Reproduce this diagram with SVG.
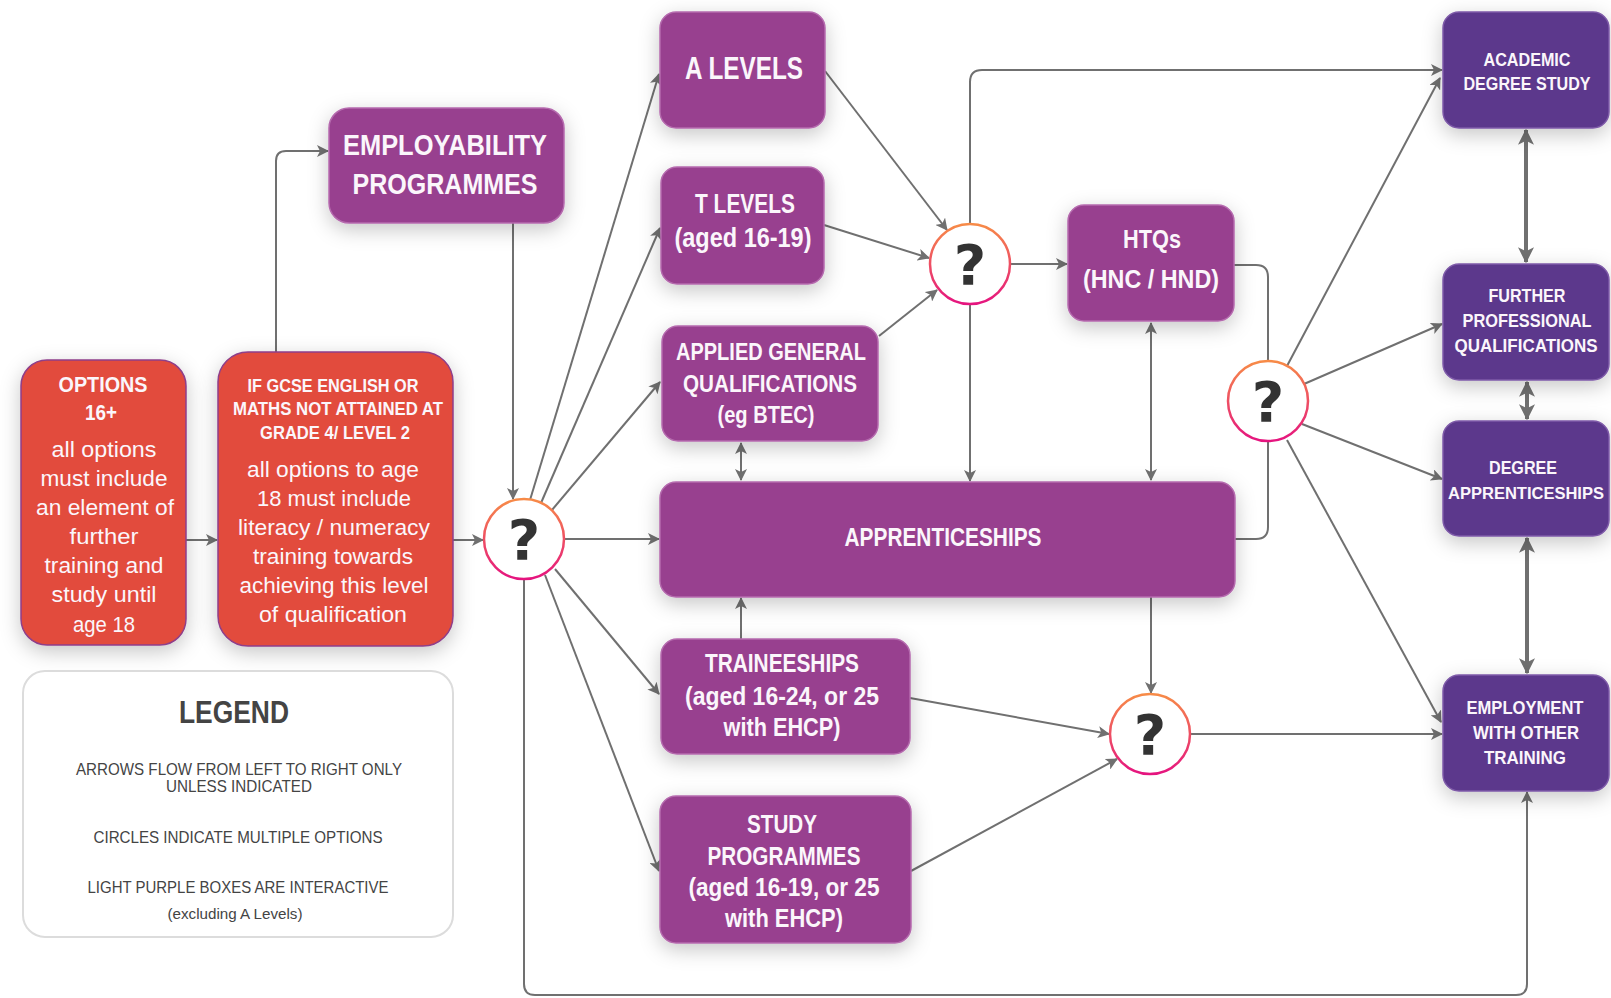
<svg xmlns="http://www.w3.org/2000/svg" width="1611" height="998" viewBox="0 0 1611 998">
<defs>
<style>
.t{font-family:"Liberation Sans",Arial,sans-serif;text-anchor:middle;fill:#fbf6fb}
.b{font-weight:bold}
.red{fill:#e24b3c;stroke:#8e3f8a;stroke-width:1.5}
.pur{fill:#98418f;stroke:#b56aae;stroke-width:1.5}
.dk{fill:#5c398c;stroke:#7e5aa8;stroke-width:1.5}
.c{fill:#fff;stroke:url(#cg);stroke-width:2.5}
.q{font-family:"DejaVu Sans","Liberation Sans",sans-serif;font-weight:bold;font-size:56px;text-anchor:middle;fill:#333}
.ln{fill:none;stroke:#707070;stroke-width:2}
.th{fill:none;stroke:#707070;stroke-width:4}
.lg{font-family:"Liberation Sans",Arial,sans-serif;text-anchor:middle;fill:#444}
</style>
<linearGradient id="cg" x1="0" y1="0" x2="0" y2="1">
<stop offset="0" stop-color="#f78b47"/>
<stop offset="1" stop-color="#e5147f"/>
</linearGradient>
<filter id="sh" x="-30%" y="-30%" width="160%" height="170%">
<feDropShadow dx="0" dy="6" stdDeviation="10" flood-color="#000" flood-opacity="0.22"/>
</filter>
<marker id="ah" viewBox="0 0 12 12" refX="11" refY="6" markerWidth="12" markerHeight="12" markerUnits="userSpaceOnUse" orient="auto-start-reverse">
<path d="M0,0 L12,6 L0,12 L3,6 z" fill="#707070"/>
</marker>
<marker id="ahb" viewBox="0 0 12 12" refX="11" refY="6" markerWidth="16" markerHeight="16" markerUnits="userSpaceOnUse" orient="auto-start-reverse">
<path d="M0,0 L12,6 L0,12 L3,6 z" fill="#707070"/>
</marker>
</defs>
<rect width="1611" height="998" fill="#fff"/>

<g id="connectors">
<line class="ln" x1="186" y1="540" x2="217" y2="540" marker-end="url(#ah)"/>
<path class="ln" d="M276,352 V161 Q276,151 286,151 H328" marker-end="url(#ah)"/>
<line class="ln" x1="453" y1="540" x2="483" y2="540" marker-end="url(#ah)"/>
<line class="ln" x1="513" y1="223" x2="513" y2="499" marker-end="url(#ah)"/>
<line class="ln" x1="530" y1="500" x2="659" y2="74" marker-end="url(#ah)"/>
<line class="ln" x1="541" y1="503" x2="660" y2="228" marker-end="url(#ah)"/>
<line class="ln" x1="552" y1="510" x2="660" y2="382" marker-end="url(#ah)"/>
<line class="ln" x1="564" y1="539" x2="659" y2="539" marker-end="url(#ah)"/>
<line class="ln" x1="555" y1="569" x2="659" y2="694" marker-end="url(#ah)"/>
<line class="ln" x1="545" y1="575" x2="659" y2="871" marker-end="url(#ah)"/>
<path class="ln" d="M524,579 V984 Q524,995 535,995 H1516 Q1527,995 1527,984 V792" marker-end="url(#ah)"/>
<line class="ln" x1="825" y1="71" x2="947" y2="230" marker-end="url(#ah)"/>
<line class="ln" x1="824" y1="225" x2="929" y2="258" marker-end="url(#ah)"/>
<line class="ln" x1="879" y1="336" x2="937" y2="290" marker-end="url(#ah)"/>
<line class="ln" x1="1010" y1="264" x2="1067" y2="264" marker-end="url(#ah)"/>
<path class="ln" d="M970,224 V82 Q970,70 982,70 H1442" marker-end="url(#ah)"/>
<line class="ln" x1="970" y1="304" x2="970" y2="481" marker-end="url(#ah)"/>
<line class="ln" x1="1151" y1="323" x2="1151" y2="480" marker-start="url(#ah)" marker-end="url(#ah)"/>
<path class="ln" d="M1234,265 H1256 Q1268,265 1268,277 V527 Q1268,539 1256,539 H1235"/>
<line class="ln" x1="741" y1="443" x2="741" y2="480" marker-start="url(#ah)" marker-end="url(#ah)"/>
<line class="ln" x1="741" y1="639" x2="741" y2="598" marker-end="url(#ah)"/>
<line class="ln" x1="1151" y1="597" x2="1151" y2="693" marker-end="url(#ah)"/>
<line class="ln" x1="910" y1="698" x2="1109" y2="734" marker-end="url(#ah)"/>
<line class="ln" x1="911" y1="871" x2="1117" y2="759" marker-end="url(#ah)"/>
<line class="ln" x1="1190" y1="734" x2="1442" y2="734" marker-end="url(#ah)"/>
<line class="ln" x1="1287" y1="366" x2="1440" y2="78" marker-end="url(#ah)"/>
<line class="ln" x1="1304" y1="384" x2="1442" y2="324" marker-end="url(#ah)"/>
<line class="ln" x1="1302" y1="424" x2="1442" y2="479" marker-end="url(#ah)"/>
<line class="ln" x1="1287" y1="440" x2="1441" y2="722" marker-end="url(#ah)"/>
<line class="th" x1="1526" y1="130" x2="1526" y2="262" marker-start="url(#ahb)" marker-end="url(#ahb)"/>
<line class="th" x1="1527" y1="382" x2="1527" y2="419" marker-start="url(#ahb)" marker-end="url(#ahb)"/>
<line class="th" x1="1527" y1="538" x2="1527" y2="673" marker-start="url(#ahb)" marker-end="url(#ahb)"/>
</g>

<g id="options">
<rect class="red" x="21" y="360" width="165" height="285" rx="26" filter="url(#sh)"/>
<text class="t b" x="103" y="392" font-size="22" textLength="89" lengthAdjust="spacingAndGlyphs">OPTIONS</text>
<text class="t b" x="101" y="420" font-size="22" textLength="32" lengthAdjust="spacingAndGlyphs">16+</text>
<text class="t" x="104" y="457" font-size="22" textLength="105" lengthAdjust="spacingAndGlyphs">all options</text>
<text class="t" x="104" y="486" font-size="22" textLength="127" lengthAdjust="spacingAndGlyphs">must include</text>
<text class="t" x="105" y="515" font-size="22" textLength="138" lengthAdjust="spacingAndGlyphs">an element of</text>
<text class="t" x="104" y="544" font-size="22" textLength="69" lengthAdjust="spacingAndGlyphs">further</text>
<text class="t" x="104" y="573" font-size="22" textLength="119" lengthAdjust="spacingAndGlyphs">training and</text>
<text class="t" x="104" y="602" font-size="22" textLength="105" lengthAdjust="spacingAndGlyphs">study until</text>
<text class="t" x="104" y="632" font-size="22" textLength="62" lengthAdjust="spacingAndGlyphs">age 18</text>
</g>

<g id="gcse">
<rect class="red" x="218" y="352" width="235" height="294" rx="30" filter="url(#sh)"/>
<text class="t b" x="333" y="392" font-size="19" textLength="171" lengthAdjust="spacingAndGlyphs">IF GCSE ENGLISH OR</text>
<text class="t b" x="338" y="415" font-size="19" textLength="210" lengthAdjust="spacingAndGlyphs">MATHS NOT ATTAINED AT</text>
<text class="t b" x="335" y="439" font-size="19" textLength="150" lengthAdjust="spacingAndGlyphs">GRADE 4/ LEVEL 2</text>
<text class="t" x="333" y="477" font-size="22" textLength="172" lengthAdjust="spacingAndGlyphs">all options to age</text>
<text class="t" x="334" y="506" font-size="22" textLength="154" lengthAdjust="spacingAndGlyphs">18 must include</text>
<text class="t" x="334" y="535" font-size="22" textLength="192" lengthAdjust="spacingAndGlyphs">literacy / numeracy</text>
<text class="t" x="333" y="564" font-size="22" textLength="160" lengthAdjust="spacingAndGlyphs">training towards</text>
<text class="t" x="334" y="593" font-size="22" textLength="189" lengthAdjust="spacingAndGlyphs">achieving this level</text>
<text class="t" x="333" y="622" font-size="22" textLength="148" lengthAdjust="spacingAndGlyphs">of qualification</text>
</g>

<g id="employability">
<rect class="pur" x="329" y="108" width="235" height="115" rx="20" filter="url(#sh)"/>
<text class="t b" x="445" y="155" font-size="30" textLength="204" lengthAdjust="spacingAndGlyphs">EMPLOYABILITY</text>
<text class="t b" x="445" y="194" font-size="30" textLength="185" lengthAdjust="spacingAndGlyphs">PROGRAMMES</text>
</g>

<g id="legend">
<rect x="23" y="671" width="430" height="266" rx="22" fill="#fff" stroke="#dcdcdc" stroke-width="2"/>
<text class="lg b" x="234" y="723" font-size="31" textLength="110" lengthAdjust="spacingAndGlyphs">LEGEND</text>
<text class="lg" x="239" y="775" font-size="17" textLength="326" lengthAdjust="spacingAndGlyphs">ARROWS FLOW FROM LEFT TO RIGHT ONLY</text>
<text class="lg" x="239" y="792" font-size="17" textLength="146" lengthAdjust="spacingAndGlyphs">UNLESS INDICATED</text>
<text class="lg" x="238" y="843" font-size="17" textLength="289" lengthAdjust="spacingAndGlyphs">CIRCLES INDICATE MULTIPLE OPTIONS</text>
<text class="lg" x="238" y="893" font-size="17" textLength="301" lengthAdjust="spacingAndGlyphs">LIGHT PURPLE BOXES ARE INTERACTIVE</text>
<text class="lg" x="235" y="919" font-size="14" textLength="135" lengthAdjust="spacingAndGlyphs">(excluding A Levels)</text>
</g>

<g id="circle-left">
<circle class="c" cx="524" cy="539" r="40"/>
<text class="q" x="524" y="559">?</text>
</g>

<g id="a-levels">
<rect class="pur" x="660" y="12" width="165" height="116" rx="16" filter="url(#sh)"/>
<text class="t b" x="744" y="79" font-size="32" textLength="118" lengthAdjust="spacingAndGlyphs">A LEVELS</text>
</g>

<g id="t-levels">
<rect class="pur" x="661" y="167" width="163" height="117" rx="16" filter="url(#sh)"/>
<text class="t b" x="745" y="213" font-size="27" textLength="100" lengthAdjust="spacingAndGlyphs">T LEVELS</text>
<text class="t b" x="743" y="247" font-size="27" textLength="137" lengthAdjust="spacingAndGlyphs">(aged 16-19)</text>
</g>

<g id="applied">
<rect class="pur" x="662" y="326" width="216" height="115" rx="16" filter="url(#sh)"/>
<text class="t b" x="771" y="360" font-size="24" textLength="190" lengthAdjust="spacingAndGlyphs">APPLIED GENERAL</text>
<text class="t b" x="770" y="392" font-size="24" textLength="174" lengthAdjust="spacingAndGlyphs">QUALIFICATIONS</text>
<text class="t b" x="766" y="423" font-size="24" textLength="97" lengthAdjust="spacingAndGlyphs">(eg BTEC)</text>
</g>

<g id="apprenticeships">
<rect class="pur" x="660" y="482" width="575" height="115" rx="16" filter="url(#sh)"/>
<text class="t b" x="943" y="546" font-size="26" textLength="197" lengthAdjust="spacingAndGlyphs">APPRENTICESHIPS</text>
</g>

<g id="traineeships">
<rect class="pur" x="661" y="639" width="249" height="115" rx="16" filter="url(#sh)"/>
<text class="t b" x="782" y="672" font-size="26" textLength="154" lengthAdjust="spacingAndGlyphs">TRAINEESHIPS</text>
<text class="t b" x="782" y="705" font-size="26" textLength="194" lengthAdjust="spacingAndGlyphs">(aged 16-24, or 25</text>
<text class="t b" x="782" y="736" font-size="26" textLength="117" lengthAdjust="spacingAndGlyphs">with EHCP)</text>
</g>

<g id="study">
<rect class="pur" x="660" y="796" width="251" height="147" rx="16" filter="url(#sh)"/>
<text class="t b" x="782" y="833" font-size="26" textLength="70" lengthAdjust="spacingAndGlyphs">STUDY</text>
<text class="t b" x="784" y="865" font-size="26" textLength="153" lengthAdjust="spacingAndGlyphs">PROGRAMMES</text>
<text class="t b" x="784" y="896" font-size="26" textLength="191" lengthAdjust="spacingAndGlyphs">(aged 16-19, or 25</text>
<text class="t b" x="784" y="927" font-size="26" textLength="118" lengthAdjust="spacingAndGlyphs">with EHCP)</text>
</g>

<g id="circle-mid">
<circle class="c" cx="970" cy="264" r="40"/>
<text class="q" x="970" y="284">?</text>
</g>

<g id="htqs">
<rect class="pur" x="1068" y="205" width="166" height="116" rx="16" filter="url(#sh)"/>
<text class="t b" x="1152" y="248" font-size="26" textLength="58" lengthAdjust="spacingAndGlyphs">HTQs</text>
<text class="t b" x="1151" y="288" font-size="26" textLength="136" lengthAdjust="spacingAndGlyphs">(HNC / HND)</text>
</g>

<g id="circle-right">
<circle class="c" cx="1268" cy="401" r="40"/>
<text class="q" x="1268" y="421">?</text>
</g>

<g id="circle-bottom">
<circle class="c" cx="1150" cy="734" r="40"/>
<text class="q" x="1150" y="754">?</text>
</g>

<g id="academic">
<rect class="dk" x="1443" y="12" width="166" height="116" rx="16" filter="url(#sh)"/>
<text class="t b" x="1527" y="66" font-size="19" textLength="87" lengthAdjust="spacingAndGlyphs">ACADEMIC</text>
<text class="t b" x="1527" y="90" font-size="18" textLength="127" lengthAdjust="spacingAndGlyphs">DEGREE STUDY</text>
</g>

<g id="further">
<rect class="dk" x="1443" y="264" width="166" height="116" rx="16" filter="url(#sh)"/>
<text class="t b" x="1527" y="302" font-size="19" textLength="77" lengthAdjust="spacingAndGlyphs">FURTHER</text>
<text class="t b" x="1527" y="327" font-size="19" textLength="129" lengthAdjust="spacingAndGlyphs">PROFESSIONAL</text>
<text class="t b" x="1526" y="352" font-size="18" textLength="143" lengthAdjust="spacingAndGlyphs">QUALIFICATIONS</text>
</g>

<g id="degree-apprenticeships">
<rect class="dk" x="1443" y="421" width="166" height="115" rx="16" filter="url(#sh)"/>
<text class="t b" x="1523" y="474" font-size="19" textLength="68" lengthAdjust="spacingAndGlyphs">DEGREE</text>
<text class="t b" x="1526" y="499" font-size="16.5" textLength="156" lengthAdjust="spacingAndGlyphs">APPRENTICESHIPS</text>
</g>

<g id="employment">
<rect class="dk" x="1443" y="675" width="166" height="116" rx="16" filter="url(#sh)"/>
<text class="t b" x="1525" y="714" font-size="19" textLength="117" lengthAdjust="spacingAndGlyphs">EMPLOYMENT</text>
<text class="t b" x="1526" y="739" font-size="19" textLength="106" lengthAdjust="spacingAndGlyphs">WITH OTHER</text>
<text class="t b" x="1525" y="764" font-size="19" textLength="82" lengthAdjust="spacingAndGlyphs">TRAINING</text>
</g>
</svg>
